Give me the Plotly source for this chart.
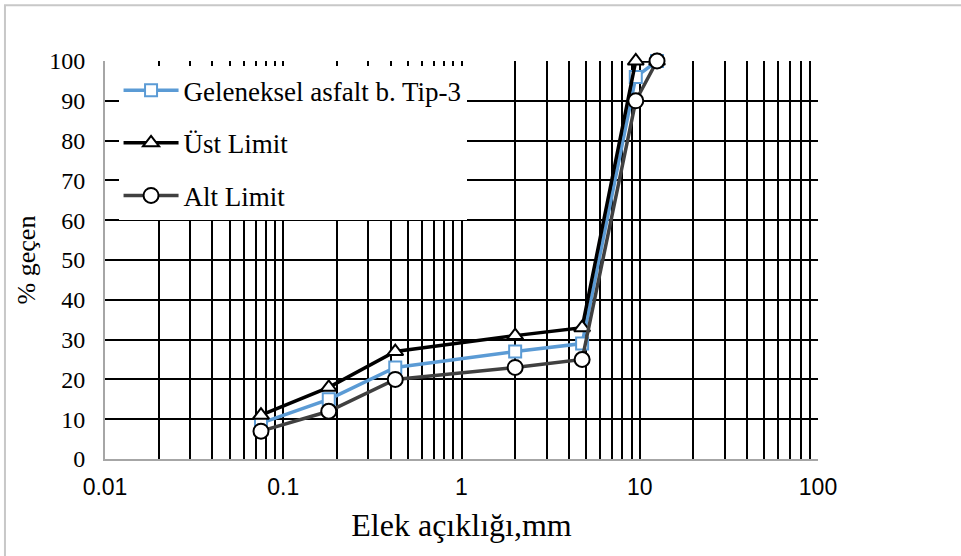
import plotly.graph_objects as go

# ---- data ----
sieve_mm = [0.075, 0.18, 0.425, 2.0, 4.75, 9.5, 12.5]
geleneksel = [9, 15, 23, 27, 29, 96, 100]
ust_limit = [11, 18, 27, 31, 33, 100, 100]
alt_limit = [7, 12, 20, 23, 25, 90, 100]

series_names = ["Geleneksel asfalt b. Tip-3", "Üst Limit", "Alt Limit"]
decade_labels = ["0.01", "0.1", "1", "10", "100"]
y_ticks = list(range(0, 101, 10))

# grid positions for log axis (all 1..9 multiples of each decade)
decades = [0.01, 0.1, 1, 10]
x_tickvals, x_ticktext = [], []
for i, d in enumerate(decades):
    for m in range(1, 10):
        x_tickvals.append(d * m)
        x_ticktext.append(decade_labels[i] if m == 1 else "")
x_tickvals.append(100)
x_ticktext.append(decade_labels[-1])

fig = go.Figure()
fig.add_trace(go.Scatter(
    x=sieve_mm, y=geleneksel, name=series_names[0], mode="lines+markers",
    line=dict(color="#5B9BD5", width=3.5), cliponaxis=False,
    marker=dict(symbol="square", size=12, color="white", line=dict(color="#5B9BD5", width=2)),
    legendgroup="a"))
fig.add_trace(go.Scatter(
    x=sieve_mm, y=ust_limit, name=series_names[1], mode="lines+markers",
    line=dict(color="#000000", width=3.5), cliponaxis=False,
    marker=dict(symbol="triangle-up", size=14, color="white", line=dict(color="#000000", width=2)),
    legendgroup="b"))
fig.add_trace(go.Scatter(
    x=sieve_mm, y=alt_limit, name=series_names[2], mode="lines+markers",
    line=dict(color="#404040", width=3.5), cliponaxis=False,
    marker=dict(symbol="circle", size=15, color="white", line=dict(color="#000000", width=2)),
    legendgroup="c"))

fig.update_layout(
    width=961, height=556,
    margin=dict(l=105, r=143, t=61, b=97),
    paper_bgcolor="white", plot_bgcolor="white",
    showlegend=True,
    legend=dict(
        x=0.019, y=0.987, xanchor="left", yanchor="top",
        bgcolor="white", borderwidth=0,
        font=dict(family="Liberation Serif", size=27, color="#000000"),
        tracegroupgap=14.5, itemwidth=55,
    ),
    xaxis=dict(
        type="log", range=[-2, 2],
        tickmode="array", tickvals=x_tickvals, ticktext=x_ticktext,
        showgrid=True, gridcolor="#000000", gridwidth=2,
        showline=True, linecolor="#A6A6A6", linewidth=2,
        ticks="", ticklabelstandoff=6,
        tickfont=dict(family="Liberation Sans", size=23, color="#000000"),
        title=dict(text="Elek açıklığı,mm", standoff=15,
                   font=dict(family="Liberation Serif", size=32, color="#000000")),
        zeroline=False,
    ),
    yaxis=dict(
        range=[0, 100], tickmode="array", tickvals=y_ticks,
        showgrid=True, gridcolor="#000000", gridwidth=2,
        showline=True, linecolor="#A6A6A6", linewidth=2,
        ticks="", ticklabelstandoff=13,
        tickfont=dict(family="Liberation Serif", size=24, color="#000000"),
        title=dict(text="% geçen", standoff=6,
                   font=dict(family="Liberation Serif", size=26, color="#000000")),
        zeroline=False,
    ),
    shapes=[dict(type="rect", xref="paper", yref="paper",
                 x0=-0.1403, y0=-0.5, x1=1.5, y1=1.1398,
                 line=dict(color="#C8C8C8", width=2), layer="below")],
)

fig.write_html("out.html")
